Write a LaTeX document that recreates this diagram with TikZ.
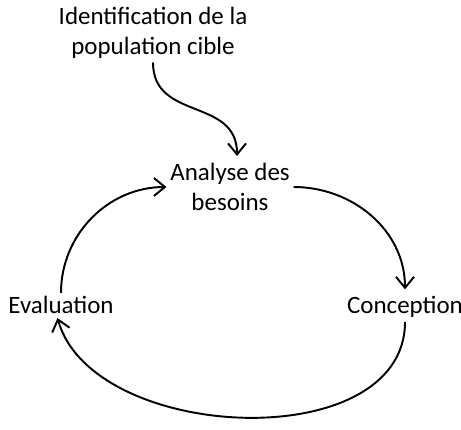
\documentclass[tikz,border=0pt]{standalone}
\usepackage{fontspec}
\setmainfont{Carlito}
\usetikzlibrary{arrows.meta}

\begin{document}
\begin{tikzpicture}[every node/.style={font=\fontsize{14.2}{17}\selectfont, align=center, inner sep=2pt}, >={Straight Barb[length=2.2mm,width=3.6mm]}, fleche/.style={->, line width=1.1pt}]
	\useasboundingbox (0,0) rectangle (9.22,8.58);
	% etapes
	\node (cible) at (3.06,7.92) {Identification de la\\population cible};
	\node (besoins) at (4.60,4.84) {Analyse des\\besoins};
	\node[anchor=base] (conception) at (8.10,2.30) {Conception};
	\node[anchor=base] (evaluation) at (1.22,2.30) {Evaluation};
	% entree
	\draw[fleche] (cible.south) to[out=-90, in=90, looseness=1.2] ([xshift=4pt,yshift=2pt]besoins.north);
	% cycle
	\draw[fleche] (besoins.east) to[out=0, in=90] ([yshift=2pt]conception.north);
	\draw[fleche] (conception.south) .. controls +(0,-2.7) and +(0.7,-2.5) .. ([xshift=-2pt]evaluation.south);
	\draw[fleche] (evaluation.north) to[out=90, in=180] (besoins.west);
\end{tikzpicture}
\end{document}
